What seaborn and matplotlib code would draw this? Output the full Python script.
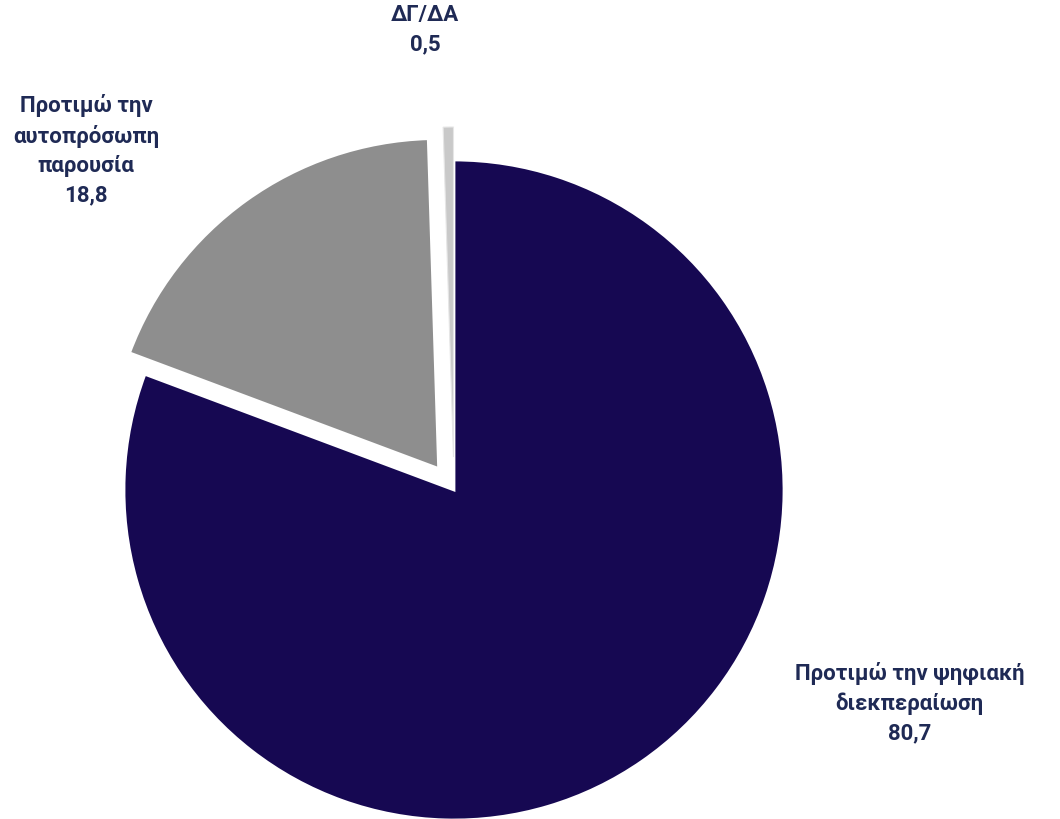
import seaborn as sns
import matplotlib.pyplot as plt

labels = ["Προτιμώ την ψηφιακή\nδιεκπεραίωση", "Προτιμώ την\nαυτοπρόσωπη\nπαρουσία", "ΔΓ/ΔΑ"]
values = [80.7, 18.8, 0.5]
value_text = ["80,7", "18,8", "0,5"]
colors = ["#160852", "#8e8e8e", "#c9c9c9"]
explode = [0.0, 0.08, 0.1]

sns.set_theme(style="white")
plt.rcParams['font.family'] = ['Roboto', 'DejaVu Sans']

fig = plt.figure(figsize=(10.6, 8.19), dpi=100)
ax = fig.add_axes([0, 0, 1, 1])

wedges, _ = ax.pie(values, colors=colors, explode=explode, startangle=90, counterclock=False,
                   radius=1, wedgeprops=dict(edgecolor="white", linewidth=2))
wedges[2].set_linewidth(0.8)
wedges[2].set_edgecolor("#e6e6e6")

# axes limits so that radius 1 = 330 px, centre at (454, 490) px
ax.set_xlim(-454 / 330, (1060 - 454) / 330)
ax.set_ylim(-(819 - 490) / 330, 490 / 330)
ax.set_aspect("equal")
ax.axis("off")

label_pos = [(1.38, -0.645), (-1.115, 1.03), (-0.088, 1.394)]
for lab, val, (x, y) in zip(labels, value_text, label_pos):
    ax.text(x, y, f"{lab}\n{val}", ha="center", va="center", fontsize=16,
            fontweight="bold", color="#1f2a55", linespacing=1.42)

fig.savefig("out.png", dpi=100)
